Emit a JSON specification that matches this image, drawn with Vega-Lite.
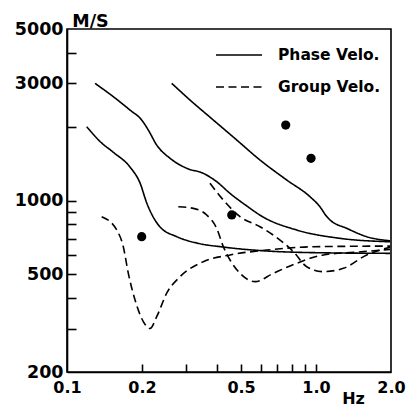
{
  "$schema": "https://vega.github.io/schema/vega-lite/v6.json",
  "width": 324,
  "height": 343,
  "autosize": {"type": "none"},
  "padding": {"left": 67, "top": 29, "right": 20, "bottom": 35},
  "background": "white",
  "config": {
    "view": {"stroke": "black", "strokeWidth": 1.6},
    "font": "DejaVu Sans",
    "legend": {"rowPadding": -1, "gridAlign": "none"}
  },
  "datasets": {
    "curves": [
      {"curve": "P1", "type": "Phase Velo.", "f": 0.120, "v": 2000},
      {"curve": "P1", "type": "Phase Velo.", "f": 0.136, "v": 1736},
      {"curve": "P1", "type": "Phase Velo.", "f": 0.153, "v": 1576},
      {"curve": "P1", "type": "Phase Velo.", "f": 0.179, "v": 1369},
      {"curve": "P1", "type": "Phase Velo.", "f": 0.1965, "v": 1178},
      {"curve": "P1", "type": "Phase Velo.", "f": 0.209, "v": 977},
      {"curve": "P1", "type": "Phase Velo.", "f": 0.222, "v": 856},
      {"curve": "P1", "type": "Phase Velo.", "f": 0.236, "v": 782},
      {"curve": "P1", "type": "Phase Velo.", "f": 0.276, "v": 712},
      {"curve": "P1", "type": "Phase Velo.", "f": 0.332, "v": 671},
      {"curve": "P1", "type": "Phase Velo.", "f": 0.4245, "v": 646},
      {"curve": "P1", "type": "Phase Velo.", "f": 0.6125, "v": 624},
      {"curve": "P1", "type": "Phase Velo.", "f": 0.975, "v": 613},
      {"curve": "P1", "type": "Phase Velo.", "f": 1.983, "v": 609},

      {"curve": "P2", "type": "Phase Velo.", "f": 0.1296, "v": 3002},
      {"curve": "P2", "type": "Phase Velo.", "f": 0.1535, "v": 2648},
      {"curve": "P2", "type": "Phase Velo.", "f": 0.179, "v": 2337},
      {"curve": "P2", "type": "Phase Velo.", "f": 0.1995, "v": 2128},
      {"curve": "P2", "type": "Phase Velo.", "f": 0.2121, "v": 1937},
      {"curve": "P2", "type": "Phase Velo.", "f": 0.2292, "v": 1683},
      {"curve": "P2", "type": "Phase Velo.", "f": 0.2593, "v": 1486},
      {"curve": "P2", "type": "Phase Velo.", "f": 0.3025, "v": 1353},
      {"curve": "P2", "type": "Phase Velo.", "f": 0.3527, "v": 1290},
      {"curve": "P2", "type": "Phase Velo.", "f": 0.3992, "v": 1193},
      {"curve": "P2", "type": "Phase Velo.", "f": 0.4516, "v": 1069},
      {"curve": "P2", "type": "Phase Velo.", "f": 0.527, "v": 950},
      {"curve": "P2", "type": "Phase Velo.", "f": 0.61, "v": 859},
      {"curve": "P2", "type": "Phase Velo.", "f": 0.8366, "v": 758},
      {"curve": "P2", "type": "Phase Velo.", "f": 1.249, "v": 701},
      {"curve": "P2", "type": "Phase Velo.", "f": 1.983, "v": 679},

      {"curve": "P3", "type": "Phase Velo.", "f": 0.2634, "v": 3002},
      {"curve": "P3", "type": "Phase Velo.", "f": 0.3119, "v": 2567},
      {"curve": "P3", "type": "Phase Velo.", "f": 0.3869, "v": 2128},
      {"curve": "P3", "type": "Phase Velo.", "f": 0.4804, "v": 1764},
      {"curve": "P3", "type": "Phase Velo.", "f": 0.5957, "v": 1462},
      {"curve": "P3", "type": "Phase Velo.", "f": 0.7626, "v": 1212},
      {"curve": "P3", "type": "Phase Velo.", "f": 0.9461, "v": 1036},
      {"curve": "P3", "type": "Phase Velo.", "f": 1.037, "v": 943},
      {"curve": "P3", "type": "Phase Velo.", "f": 1.104, "v": 860},
      {"curve": "P3", "type": "Phase Velo.", "f": 1.138, "v": 833},
      {"curve": "P3", "type": "Phase Velo.", "f": 1.329, "v": 770},
      {"curve": "P3", "type": "Phase Velo.", "f": 1.598, "v": 712},
      {"curve": "P3", "type": "Phase Velo.", "f": 1.983, "v": 685},

      {"curve": "G1", "type": "Group Velo.", "f": 0.1378, "v": 859},
      {"curve": "G1", "type": "Group Velo.", "f": 0.1584, "v": 758},
      {"curve": "G1", "type": "Group Velo.", "f": 0.1683, "v": 648},
      {"curve": "G1", "type": "Group Velo.", "f": 0.1763, "v": 505},
      {"curve": "G1", "type": "Group Velo.", "f": 0.1876, "v": 393},
      {"curve": "G1", "type": "Group Velo.", "f": 0.2025, "v": 321},
      {"curve": "G1", "type": "Group Velo.", "f": 0.2154, "v": 301},
      {"curve": "G1", "type": "Group Velo.", "f": 0.2292, "v": 336},
      {"curve": "G1", "type": "Group Velo.", "f": 0.2514, "v": 419},
      {"curve": "G1", "type": "Group Velo.", "f": 0.2844, "v": 489},
      {"curve": "G1", "type": "Group Velo.", "f": 0.3527, "v": 563},
      {"curve": "G1", "type": "Group Velo.", "f": 0.4516, "v": 600},
      {"curve": "G1", "type": "Group Velo.", "f": 0.6339, "v": 628},
      {"curve": "G1", "type": "Group Velo.", "f": 0.9755, "v": 648},
      {"curve": "G1", "type": "Group Velo.", "f": 1.983, "v": 652},

      {"curve": "G2", "type": "Group Velo.", "f": 0.2799, "v": 943},
      {"curve": "G2", "type": "Group Velo.", "f": 0.3216, "v": 929},
      {"curve": "G2", "type": "Group Velo.", "f": 0.3639, "v": 873},
      {"curve": "G2", "type": "Group Velo.", "f": 0.3992, "v": 770},
      {"curve": "G2", "type": "Group Velo.", "f": 0.4245, "v": 648},
      {"curve": "G2", "type": "Group Velo.", "f": 0.4516, "v": 572},
      {"curve": "G2", "type": "Group Velo.", "f": 0.4953, "v": 505},
      {"curve": "G2", "type": "Group Velo.", "f": 0.5689, "v": 467},
      {"curve": "G2", "type": "Group Velo.", "f": 0.6738, "v": 505},
      {"curve": "G2", "type": "Group Velo.", "f": 0.8366, "v": 555},
      {"curve": "G2", "type": "Group Velo.", "f": 1.070, "v": 600},
      {"curve": "G2", "type": "Group Velo.", "f": 1.549, "v": 619},
      {"curve": "G2", "type": "Group Velo.", "f": 1.983, "v": 632},

      {"curve": "G3", "type": "Group Velo.", "f": 0.3752, "v": 1175},
      {"curve": "G3", "type": "Group Velo.", "f": 0.4245, "v": 1004},
      {"curve": "G3", "type": "Group Velo.", "f": 0.4953, "v": 859},
      {"curve": "G3", "type": "Group Velo.", "f": 0.5957, "v": 782},
      {"curve": "G3", "type": "Group Velo.", "f": 0.7168, "v": 690},
      {"curve": "G3", "type": "Group Velo.", "f": 0.8107, "v": 619},
      {"curve": "G3", "type": "Group Velo.", "f": 0.9178, "v": 537},
      {"curve": "G3", "type": "Group Velo.", "f": 1.070, "v": 513},
      {"curve": "G3", "type": "Group Velo.", "f": 1.287, "v": 529},
      {"curve": "G3", "type": "Group Velo.", "f": 1.598, "v": 600},
      {"curve": "G3", "type": "Group Velo.", "f": 1.983, "v": 645}
    ],
    "dots": [
      {"f": 0.1995, "v": 712},
      {"f": 0.4587, "v": 873},
      {"f": 0.7555, "v": 2030},
      {"f": 0.9548, "v": 1486}
    ]
  },
  "layer": [
    {
      "data": {"name": "curves"},
      "mark": {"type": "line", "interpolate": "monotone", "color": "black", "strokeWidth": 1.6},
      "encoding": {
        "x": {
          "field": "f", "type": "quantitative",
          "scale": {"type": "log", "domain": [0.1, 2.0], "nice": false},
          "axis": {
            "orient": "bottom",
            "values": [0.1, 0.2, 0.5, 1, 2],
            "labelExpr": "format(datum.value, '.1f')",
            "ticks": false,
            "domainColor": "black", "domainWidth": 1.6,
            "grid": false,
            "labelFont": "DejaVu Sans", "labelFontWeight": "bold", "labelFontSize": 16,
            "labelColor": "black", "labelPadding": 7,
            "labelFlush": false, "labelOverlap": false, "labelBound": false,
            "title": "Hz", "titleX": 286, "titleY": 31, "titleAlign": "center",
            "titleBaseline": "alphabetic", "titleFont": "DejaVu Sans",
            "titleFontWeight": "bold", "titleFontSize": 16, "titleColor": "black"
          }
        },
        "y": {
          "field": "v", "type": "quantitative",
          "scale": {"type": "log", "domain": [200, 5000], "nice": false},
          "axis": {
            "orient": "left",
            "values": [200, 500, 1000, 3000, 5000],
            "labelExpr": "format(datum.value, 'd')",
            "ticks": false,
            "domainColor": "black", "domainWidth": 1.6,
            "grid": false,
            "labelFont": "DejaVu Sans", "labelFontWeight": "bold", "labelFontSize": 17.5,
            "labelColor": "black", "labelPadding": 4,
            "labelFlush": false, "labelOverlap": false, "labelBound": false,
            "title": "M/S", "titleAngle": 0, "titleX": 23, "titleY": -3,
            "titleAlign": "center", "titleBaseline": "alphabetic",
            "titleFont": "DejaVu Sans", "titleFontWeight": "bold",
            "titleFontSize": 17.5, "titleColor": "black"
          }
        },
        "detail": {"field": "curve", "type": "nominal"},
        "strokeDash": {
          "field": "type", "type": "nominal",
          "scale": {"domain": ["Phase Velo.", "Group Velo."], "range": [[1, 0], [8, 4.5]]},
          "legend": {
            "orient": "none", "legendX": 148, "legendY": 2,
            "title": null, "symbolType": "stroke", "symbolSize": 2116,
            "symbolStrokeColor": "black", "symbolStrokeWidth": 1.6,
            "labelFont": "DejaVu Sans", "labelFontWeight": "bold",
            "labelFontSize": 15.5, "labelColor": "black", "labelOffset": 15,
            "padding": 0
          }
        }
      }
    },
    {
      "data": {"name": "dots"},
      "mark": {"type": "circle", "color": "black", "opacity": 1, "size": 85},
      "encoding": {
        "x": {
          "field": "f", "type": "quantitative",
          "scale": {"type": "log", "domain": [0.1, 2.0], "nice": false},
          "axis": {
            "orient": "bottom", "offset": -8,
            "values": [0.2, 0.3, 0.4, 0.5, 0.6, 0.7, 0.8, 0.9, 1],
            "tickSize": 8, "tickWidth": 1.6, "tickColor": "black",
            "domain": false, "labels": false, "grid": false, "title": null
          }
        },
        "y": {
          "field": "v", "type": "quantitative",
          "scale": {"type": "log", "domain": [200, 5000], "nice": false},
          "axis": {
            "orient": "left", "offset": -9,
            "values": [300, 400, 500, 600, 700, 800, 900, 1000, 2000, 3000, 4000],
            "tickSize": 9, "tickWidth": 1.6, "tickColor": "black",
            "domain": false, "labels": false, "grid": false, "title": null
          }
        }
      }
    }
  ],
  "resolve": {"axis": {"x": "independent", "y": "independent"}}
}
